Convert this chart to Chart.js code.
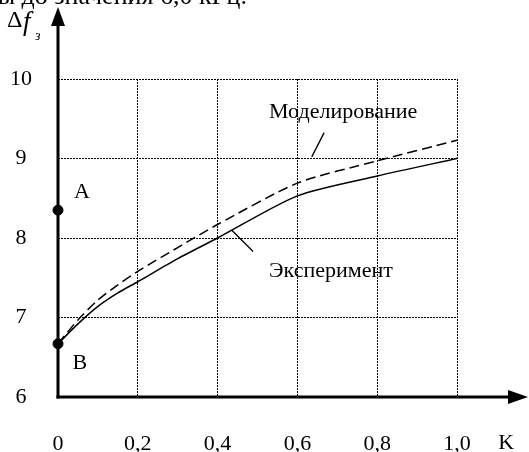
<!DOCTYPE html>
<html>
<head>
<meta charset="utf-8">
<script src="https://cdn.jsdelivr.net/npm/chart.js@4"></script>
<style>
  html, body { margin: 0; padding: 0; background: #fff; }
  #wrap { width: 529px; height: 452px; position: relative; }
</style>
</head>
<body>
<div id="wrap"><canvas id="chart" width="529" height="452"></canvas></div>
<script>
// Data
const kValues = [0, 0.05, 0.1, 0.15, 0.2, 0.3, 0.4, 0.6, 0.8, 1.0];
const experiment = [6.67, 6.92, 7.14, 7.31, 7.45, 7.74, 8.0, 8.53, 8.78, 9.0];
const modeling = [6.67, 6.97, 7.22, 7.41, 7.58, 7.88, 8.17, 8.69, 8.97, 9.23];
const pointK = [0, 0];
const pointF = [8.35, 6.67];
const xTickLabels = ['0', '0,2', '0,4', '0,6', '0,8', '1,0'];
const yTickLabels = ['6', '7', '8', '9', '10'];

const FONT = '"Liberation Serif", "Times New Roman", serif';

function toXY(xs, ys) {
  return xs.map((x, i) => ({ x: x, y: ys[i] }));
}

// Axes with arrows, labels and leader lines
const decorPlugin = {
  id: 'decor',
  afterDatasetsDraw(chart) {
    const ctx = chart.ctx;
    const xs = chart.scales.x, ys = chart.scales.y;
    const px = v => xs.getPixelForValue(v);
    const py = v => ys.getPixelForValue(v);
    const x0 = px(0), y0 = py(6);

    ctx.save();
    ctx.fillStyle = '#000';
    ctx.strokeStyle = '#000';

    // y axis
    ctx.lineWidth = 3;
    ctx.beginPath();
    ctx.moveTo(x0, y0 + 1.5);
    ctx.lineTo(x0, 20);
    ctx.stroke();
    ctx.beginPath();
    ctx.moveTo(x0, 7);
    ctx.lineTo(x0 - 7, 26);
    ctx.lineTo(x0 + 7, 26);
    ctx.closePath();
    ctx.fill();

    // x axis
    ctx.beginPath();
    ctx.moveTo(x0 - 1.5, y0);
    ctx.lineTo(515, y0);
    ctx.stroke();
    ctx.beginPath();
    ctx.moveTo(528, y0);
    ctx.lineTo(508, y0 - 7);
    ctx.lineTo(508, y0 + 7);
    ctx.closePath();
    ctx.fill();

    // leader lines
    ctx.lineWidth = 1.3;
    ctx.beginPath();
    ctx.moveTo(px(0.667), py(9.325));
    ctx.lineTo(px(0.636), py(9.02));
    ctx.moveTo(px(0.435), py(8.10));
    ctx.lineTo(px(0.489), py(7.83));
    ctx.stroke();

    // text
    ctx.font = '22px ' + FONT;
    ctx.textBaseline = 'middle';
    ctx.textAlign = 'center';
    ctx.fillText('A', px(0.06), py(8.57));
    ctx.fillText('B', px(0.055), py(6.42));
    ctx.fillText('K', px(1.123), 443);
    ctx.textAlign = 'left';
    ctx.fillText('Моделирование', px(0.529), py(9.58));
    ctx.fillText('Эксперимент', px(0.529), py(7.58));

    // axis title Δf_з
    ctx.font = '24px ' + FONT;
    ctx.fillText('Δ', 7, 21);
    ctx.font = 'italic 27px ' + FONT;
    ctx.fillText('f', 23, 23);
    ctx.font = 'italic 14px ' + FONT;
    ctx.fillText('з', 35, 36);

    // clipped line of text above the figure
    ctx.font = '26px ' + FONT;
    ctx.textBaseline = 'alphabetic';
    ctx.textAlign = 'right';
    ctx.fillText('ы до значения 6,0 кГц.', 247, 3.5);
    ctx.restore();
  }
};

new Chart(document.getElementById('chart'), {
  type: 'line',
  data: {
    datasets: [
      {
        label: 'Эксперимент',
        data: toXY(kValues, experiment),
        borderColor: '#000',
        borderWidth: 1.5,
        pointRadius: 0,
        tension: 0.25
      },
      {
        label: 'Моделирование',
        data: toXY(kValues, modeling),
        borderColor: '#000',
        borderWidth: 1.5,
        borderDash: [10, 5],
        pointRadius: 0,
        tension: 0.25
      },
      {
        label: 'A, B',
        data: toXY(pointK, pointF),
        showLine: false,
        pointRadius: 5,
        pointBackgroundColor: '#000',
        pointBorderColor: '#000',
        clip: false
      }
    ]
  },
  options: {
    responsive: false,
    animation: false,
    layout: { padding: { top: 79, right: 72, left: 0, bottom: 0 } },
    plugins: { legend: { display: false }, tooltip: { enabled: false } },
    scales: {
      x: {
        type: 'linear',
        min: 0,
        max: 1,
        afterFit(scale) { scale.height = 55; },
        afterBuildTicks(scale) {
          scale.ticks = xTickLabels.map((t, i) => ({ value: i * 0.2 }));
        },
        ticks: {
          callback: (v, i) => xTickLabels[i],
          color: '#000',
          font: { family: FONT, size: 22 },
          padding: 34,
          maxRotation: 0
        },
        grid: { color: '#000', lineWidth: 1, drawTicks: false },
        border: { display: false, dash: [2, 1] }
      },
      y: {
        min: 6,
        max: 10,
        afterFit(scale) { scale.width = 58; },
        ticks: {
          stepSize: 1,
          callback: (v, i) => yTickLabels[i],
          color: '#000',
          font: { family: FONT, size: 22 },
          padding: 26,
          crossAlign: 'center'
        },
        grid: { color: '#000', lineWidth: 1, drawTicks: false },
        border: { display: false, dash: [2, 1] }
      }
    }
  },
  plugins: [decorPlugin]
});
</script>
</body>
</html>
